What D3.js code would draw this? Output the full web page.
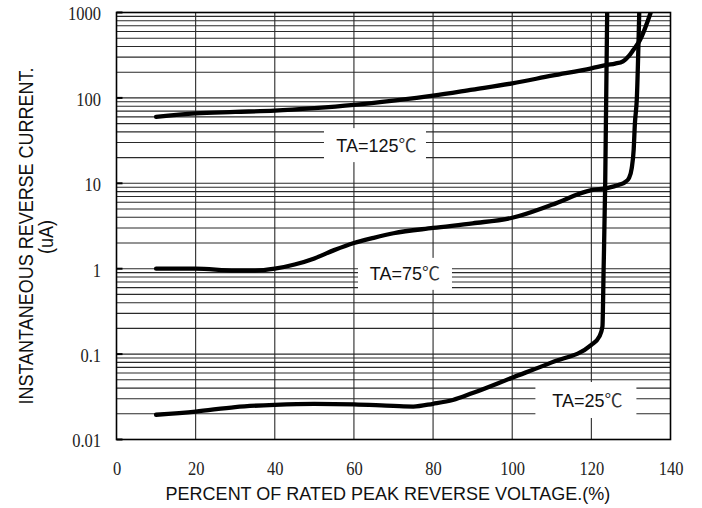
<!DOCTYPE html>
<html>
<head>
<meta charset="utf-8">
<script src="https://cdn.jsdelivr.net/npm/d3@7"></script>
<style>
  body { margin: 0; background: #fff; }
  svg { display: block; }
</style>
</head>
<body>
<svg id="chart" width="702" height="508"></svg>
<script>
// reverse current vs percent of rated voltage
const pct125 = [10, 20, 30, 40, 50, 60, 70, 80, 90, 100, 110, 120, 124, 126, 128, 129.5, 130.6, 132.3, 135];
const cur125 = [60, 66, 68.5, 71, 76, 83, 93, 106, 125, 148, 182, 222, 243, 252, 268, 310, 364, 476, 1000];

const pct75 = [10, 20, 30, 35, 40, 45, 50, 55, 60, 65, 70, 80, 90, 100, 110, 120, 124, 127, 128.5, 129.5, 130.2, 130.7, 131.0, 131.5, 132.1];
const cur75 = [1.0, 1.0, 0.95, 0.95, 1.0, 1.12, 1.32, 1.65, 2.0, 2.3, 2.6, 3.0, 3.4, 3.95, 5.6, 8.3, 8.8, 9.6, 10.3, 11.5, 15, 25, 50, 100, 1000];

const pct25 = [10, 20, 30, 40, 50, 60, 70, 75, 80, 85, 90, 100, 110, 120, 122, 122.8, 123.1, 123.5, 124];
const cur25 = [0.0195, 0.0212, 0.024, 0.0255, 0.0262, 0.0258, 0.0247, 0.0243, 0.0262, 0.029, 0.035, 0.053, 0.08, 0.128, 0.16, 0.21, 1, 10, 1000];

const xTicks = [0, 20, 40, 60, 80, 100, 120, 140];
const yTicks = [0.01, 0.1, 1, 10, 100, 1000];
const yTickLabels = ["0.01", "0.1", "1", "10", "100", "1000"];

const curveLabels = ["TA=125", "TA=75", "TA=25"];
const labelPct = [65.7, 72.9, 119.0];
const labelCur = [28, 0.87, 0.029];

const svg = d3.select("#chart");
const mLeft = 116.5, mTop = 12.5, w = 554, h = 427;

const x = d3.scaleLinear().domain([0, 140]).range([mLeft, mLeft + w]);
const y = d3.scaleLog().domain([0.01, 1000]).range([mTop + h, mTop]);

// log grid
let gridY = [];
for (let k = -2; k < 3; k++) {
  for (let m = 1; m < 10; m++) gridY.push(m * Math.pow(10, k));
}
gridY.push(1000);

const grid = svg.append("g");
grid.selectAll("line.h").data(gridY).enter().append("line")
  .attr("class", "h")
  .attr("x1", mLeft).attr("x2", mLeft + w)
  .attr("y1", d => y(d)).attr("y2", d => y(d))
  .attr("stroke", "#2a2a2a").attr("stroke-width", 1.1);
grid.selectAll("line.v").data(xTicks.slice(1, -1)).enter().append("line")
  .attr("class", "v")
  .attr("x1", d => x(d)).attr("x2", d => x(d))
  .attr("y1", mTop).attr("y2", mTop + h)
  .attr("stroke", "#2a2a2a").attr("stroke-width", 1.1);

// decade stubs on the left edge
svg.append("g").selectAll("line").data(yTicks).enter().append("line")
  .attr("x1", mLeft).attr("x2", mLeft + 6)
  .attr("y1", d => y(d)).attr("y2", d => y(d))
  .attr("stroke", "#000").attr("stroke-width", 2);

// label boxes hide the grid
const boxW = [102, 94, 101], boxH = [34, 32, 36], boxDx = [-1.5, 0, -1.5];
const labels = svg.append("g");
curveLabels.forEach((t, i) => {
  const cx = x(labelPct[i]), cy = y(labelCur[i]);
  labels.append("rect")
    .attr("x", cx - boxW[i] / 2 + boxDx[i]).attr("y", cy - boxH[i] / 2)
    .attr("width", boxW[i]).attr("height", boxH[i])
    .attr("fill", "#fff");
  const tx = labels.append("text")
    .attr("x", cx).attr("y", cy + 6.5)
    .attr("text-anchor", "middle")
    .attr("font-family", "'Liberation Sans', Arial, sans-serif")
    .attr("font-size", 18).attr("fill", "#111")
    .text(t);
  tx.append("tspan")
    .attr("font-family", "'Noto Sans CJK TC', 'Noto Sans CJK SC', sans-serif")
    .attr("font-size", 18).attr("fill", "#333")
    .text("\u2103");
});

// curves
svg.append("clipPath").attr("id", "plotclip").append("rect")
  .attr("x", mLeft).attr("y", mTop).attr("width", w).attr("height", h);

const line = d3.line()
  .x(d => x(d[0])).y(d => y(d[1]))
  .curve(d3.curveMonotoneX);

const series = [
  d3.zip(pct125, cur125),
  d3.zip(pct75, cur75),
  d3.zip(pct25, cur25)
];
svg.append("g").attr("clip-path", "url(#plotclip)")
  .selectAll("path").data(series).enter().append("path")
  .attr("d", line)
  .attr("fill", "none").attr("stroke", "#000")
  .attr("stroke-width", 4.3).attr("stroke-linecap", "round")
  .attr("stroke-linejoin", "round");

// frame
svg.append("rect").attr("x", mLeft).attr("y", mTop).attr("width", w).attr("height", h)
  .attr("fill", "none").attr("stroke", "#000").attr("stroke-width", 1.6);

// axes (tall narrow serif digits, like the datasheet)
const xAxis = svg.append("g").attr("transform", `translate(0,${mTop + h})`)
  .call(d3.axisBottom(x).tickValues(xTicks).tickSize(0).tickFormat(d3.format("d")));
xAxis.select(".domain").remove();
xAxis.selectAll(".tick text")
  .attr("y", 0).attr("dy", 0)
  .attr("transform", "translate(0,35.5) scale(1,1.2)")
  .attr("font-family", "'Liberation Serif', 'Times New Roman', serif")
  .attr("font-size", 16.5).attr("fill", "#222");

const yAxis = svg.append("g").attr("transform", `translate(${mLeft},0)`)
  .call(d3.axisLeft(y).tickValues(yTicks).tickSize(0).tickFormat((d, i) => yTickLabels[i]));
yAxis.select(".domain").remove();
yAxis.selectAll(".tick text")
  .attr("x", -15.5).attr("y", 0).attr("dy", 0)
  .attr("transform", "translate(0,7.4) scale(1,1.2)")
  .attr("font-family", "'Liberation Serif', 'Times New Roman', serif")
  .attr("font-size", 16.5).attr("fill", "#222");

// titles
svg.append("text")
  .attr("x", 388).attr("y", 500)
  .attr("text-anchor", "middle")
  .attr("font-family", "'Liberation Sans', Arial, sans-serif")
  .attr("font-size", 18).attr("fill", "#111")
  .text("PERCENT OF RATED PEAK REVERSE VOLTAGE.(%)");

svg.append("g").attr("transform", "translate(33,236) rotate(-90)")
  .append("text")
  .attr("text-anchor", "middle")
  .attr("transform", "scale(1,1.15)")
  .attr("font-family", "'Liberation Sans', Arial, sans-serif")
  .attr("font-size", 18).attr("fill", "#111")
  .text("INSTANTANEOUS REVERSE CURRENT.");
svg.append("g").attr("transform", "translate(52.5,237) rotate(-90)")
  .append("text")
  .attr("text-anchor", "middle")
  .attr("transform", "scale(1,1.15)")
  .attr("font-family", "'Liberation Sans', Arial, sans-serif")
  .attr("font-size", 18).attr("fill", "#111")
  .text("(uA)");
</script>
</body>
</html>
